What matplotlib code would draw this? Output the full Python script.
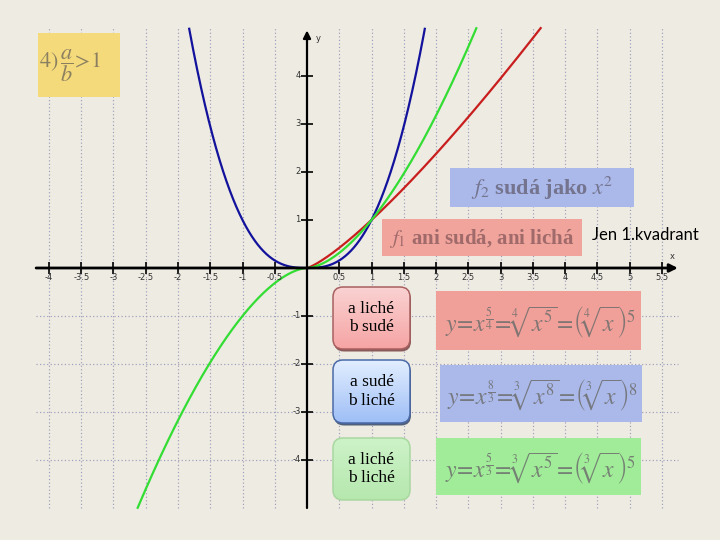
import numpy as np
import matplotlib
matplotlib.use("Agg")
import matplotlib.pyplot as plt
from matplotlib.patches import FancyBboxPatch, Rectangle
from matplotlib.colors import LinearSegmentedColormap

plt.rcParams['mathtext.fontset'] = 'stix'

# ---------------- data ----------------
exp_num = [5, 8, 5]          # a
exp_den = [4, 3, 3]          # b
curve_colors = ['#C81E1E', '#12129C', '#33DD33']
x_ticks = [-4, -3.5, -3, -2.5, -2, -1.5, -1, -0.5, 0.5, 1, 1.5, 2, 2.5, 3, 3.5, 4, 4.5, 5, 5.5]
x_tick_labels = ['-4', '-3.5', '-3', '-2.5', '-2', '-1.5', '-1', '-0.5', '0.5', '1', '1.5', '2',
                 '2.5', '3', '3.5', '4', '4.5', '5', '5.5']
y_ticks = [-4, -3, -2, -1, 1, 2, 3, 4]
y_tick_labels = ['-4', '-3', '-2', '-1', '1', '2', '3', '4']
grid_y = [-4, -3, -2, -1]
x_range = (-4.2, 5.75)
y_range = (-5.0, 5.0)

parity_labels = ['a liché\nb sudé', 'a sudé\nb liché', 'a liché\nb liché']
formulas = [r'$y\!=\!x^{\frac{5}{4}}\!=\!\sqrt[4]{x^5}\!=\!\left(\sqrt[4]{x}\right)^5$',
            r'$y\!=\!x^{\frac{8}{3}}\!=\!\sqrt[3]{x^8}\!=\!\left(\sqrt[3]{x}\right)^8$',
            r'$y\!=\!x^{\frac{5}{3}}\!=\!\sqrt[3]{x^5}\!=\!\left(\sqrt[3]{x}\right)^5$']

bg = '#EEEBE2'
fig = plt.figure(figsize=(7.2, 5.4), dpi=100, facecolor=bg)
ax = fig.add_axes([0, 0, 1, 1])
ax.set_facecolor(bg)
ax.axis('off')

X0, SX = 307.0, 64.5
Y0, SY = 268.0, 48.0

# grid
ax.vlines(x_ticks, y_range[0], y_range[1], colors='#9E9EBC', linestyles=(0, (1, 2)), lw=0.85, zorder=1)
ax.hlines(grid_y, x_range[0], x_range[1], colors='#9E9EBC', linestyles=(0, (1, 2)), lw=0.85, zorder=1)

# curves
xs = np.linspace(x_range[0], x_range[1], 4000)
for a, b, c in zip(exp_num, exp_den, curve_colors):
    if b % 2 == 0:
        xx = xs[xs >= 0]
        root = xx ** (1.0 / b)
    else:
        xx = xs
        root = np.sign(xx) * np.abs(xx) ** (1.0 / b)
    yy = root ** a
    yy = np.where((yy >= y_range[0]) & (yy <= y_range[1]), yy, np.nan)
    ax.plot(xx, yy, color=c, lw=1.6, zorder=4)

# axes with arrows
ax.annotate('', xy=(x_range[1], 0), xytext=(x_range[0], 0),
            arrowprops=dict(arrowstyle='-|>', lw=2, color='black', mutation_scale=12, shrinkA=0, shrinkB=0), zorder=5)
ax.annotate('', xy=(0, 4.95), xytext=(0, -5.0),
            arrowprops=dict(arrowstyle='-|>', lw=1.6, color='black', mutation_scale=11, shrinkA=0, shrinkB=0), zorder=5)
ax.plot(x_ticks, [0] * len(x_ticks), ls='none', marker='|', ms=8, mew=1.2, color='black', zorder=5)
ax.plot([0] * len(y_ticks), y_ticks, ls='none', marker='_', ms=8, mew=1.2, color='black', zorder=5)
for xt, lab in zip(x_ticks, x_tick_labels):
    ax.text(xt, -0.19, lab, ha='center', va='center', fontsize=6, color='#333333', zorder=5)
for yt, lab in zip(y_ticks, y_tick_labels):
    ax.text(-0.1, yt, lab, ha='right', va='center', fontsize=6, color='#333333', zorder=5)
ax.text(5.67, 0.23, 'x', fontsize=6, ha='center', va='center', color='#333333')
ax.text(0.17, 4.79, 'y', fontsize=6, ha='center', va='center', color='#333333')

ax.set_xlim(-X0 / SX, (720 - X0) / SX)
ax.set_ylim(-(540 - Y0) / SY, Y0 / SY)

# ---------------- overlay (pixel coordinates) ----------------
ov = fig.add_axes([0, 0, 1, 1], facecolor='none')
ov.axis('off')


def rect(x0, y0, x1, y1, color, z=2):
    ov.add_patch(Rectangle((x0, y0), x1 - x0, y1 - y0, fc=color, ec='none', zorder=z))


def grad_box(x0, y0, x1, y1, top, bottom, edge, lw, shadow=None):
    if shadow:
        ov.add_patch(FancyBboxPatch((x0 + 1, y0 + 2.5), x1 - x0, y1 - y0,
                                    boxstyle='round,pad=0,rounding_size=10', fc=shadow, ec='none', zorder=2))
    patch = FancyBboxPatch((x0, y0), x1 - x0, y1 - y0, boxstyle='round,pad=0,rounding_size=10',
                           fc='none', ec=edge, lw=lw, zorder=4)
    ov.add_patch(patch)
    clip = FancyBboxPatch((x0, y0), x1 - x0, y1 - y0, boxstyle='round,pad=0,rounding_size=10',
                          fc='none', ec='none', transform=ov.transData)
    ov.add_patch(clip)
    cmap = LinearSegmentedColormap.from_list('g', [top, bottom])
    grad = np.linspace(0, 1, 200)[:, None]
    im = ov.imshow(grad, extent=(x0, x1, y1, y0), cmap=cmap, aspect='auto', zorder=3,
                   interpolation='bilinear', origin='upper')
    im.set_clip_path(clip)


# yellow box
rect(38, 33, 120, 97, '#F5DA7C')
ov.text(39, 66, r'$4)\,\dfrac{a}{b}\!>\!1$', fontsize=16, color='#8A8060', ha='left', va='center', zorder=5)

# label boxes
rect(450, 168, 634, 207, '#AAB8EA')
ov.text(542, 188, r'$f_2$ sudá jako $x^2$', fontsize=16, color='#74748E', ha='center', va='center',
        family='Liberation Serif', weight='bold', zorder=5)
rect(382, 219, 582, 256, '#F1A49C')
ov.text(482, 238, r'$f_1$ ani sudá, ani lichá', fontsize=15, color='#A06A6A', ha='center', va='center',
        family='Liberation Serif', weight='bold', zorder=5)
ov.text(592, 235, 'Jen 1.kvadrant', fontsize=12, color='black', ha='left', va='center', family='Lato', zorder=5)

# parity boxes
box_rows = [(287, 349), (360, 423), (438, 500)]
grad_specs = [('#FAD2D2', '#F6A4A4', '#A86060', '#8A5A5A'),
              ('#E2EEFF', '#9EBEF6', '#4A6AA8', '#50607A'),
              ('#CDF2C8', '#B6E8AE', '#A8D8A0', None)]
for (y0, y1), lab, (t, b_, e, sh) in zip(box_rows, parity_labels, grad_specs):
    grad_box(333, y0, 410, y1, t, b_, e, 1.1, shadow=sh)
    ov.text(371.5, (y0 + y1) / 2, lab, fontsize=12.5, family='Liberation Serif', ha='center', va='center',
            color='black', linespacing=1.2, zorder=6)

# formula boxes
formula_boxes = [(436, 291, 641, 350, '#F0A098'), (440, 365, 642, 422, '#AAB9EA'), (436, 438, 641, 495, '#A0EC98')]
for (x0, y0, x1, y1, c), f in zip(formula_boxes, formulas):
    rect(x0, y0, x1, y1, c)
    ov.text((x0 + x1) / 2 + 2, (y0 + y1) / 2 + 2, f, fontsize=17, color='#6E6E6E', alpha=0.85,
            ha='center', va='center', zorder=5)

ov.set_xlim(0, 720)
ov.set_ylim(540, 0)

fig.savefig('out.png', dpi=100, facecolor=bg)
